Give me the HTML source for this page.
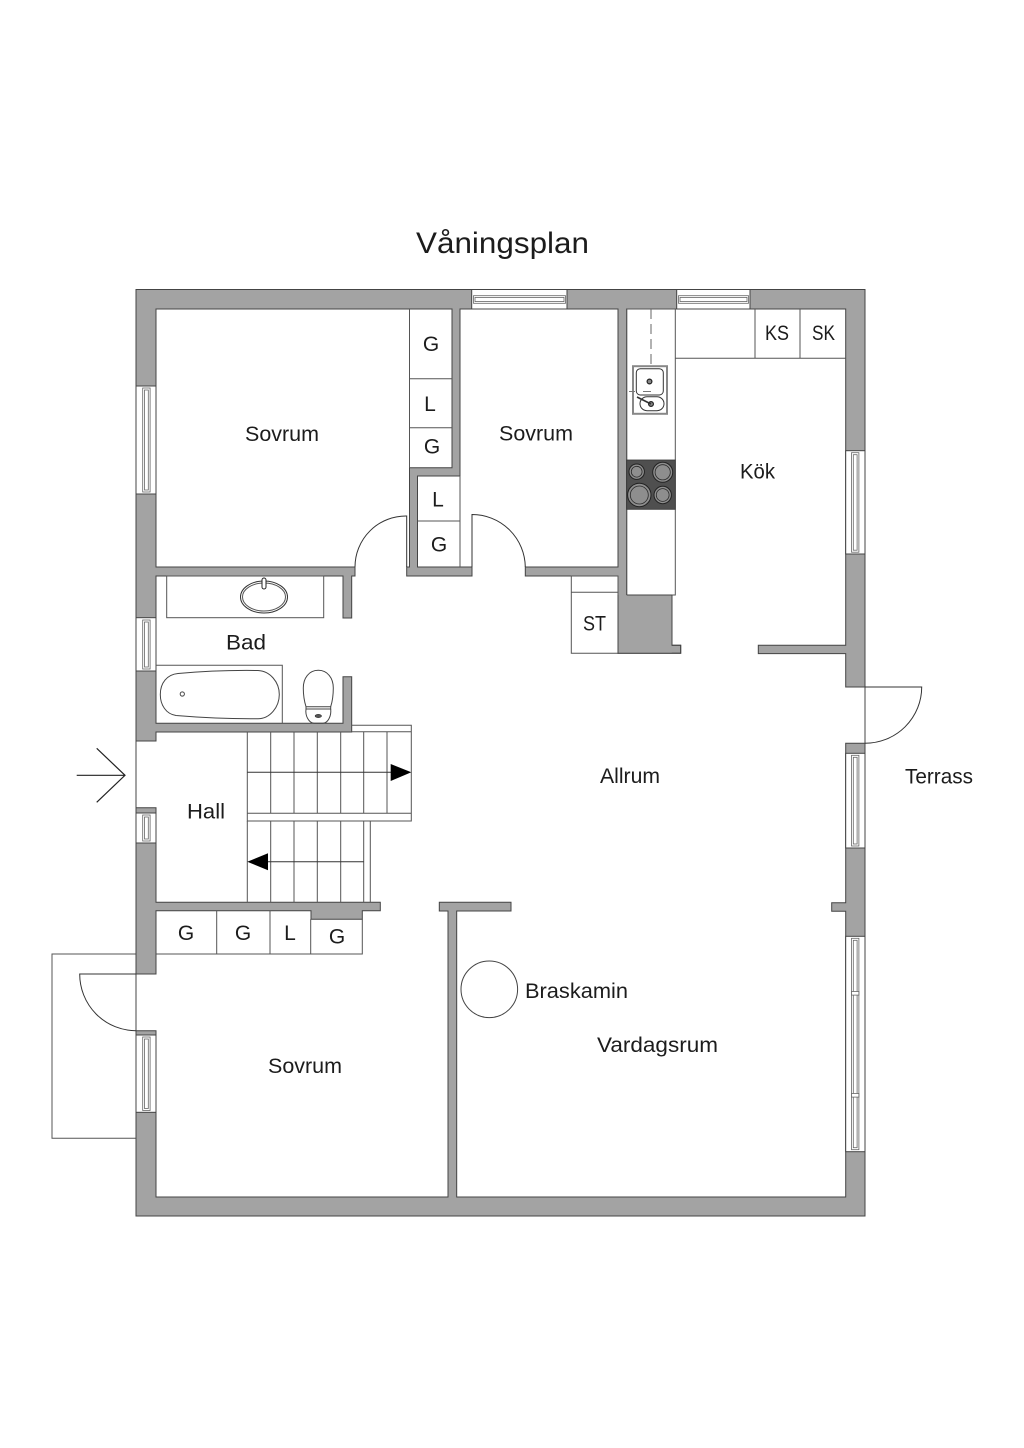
<!DOCTYPE html>
<html lang="sv">
<head>
<meta charset="utf-8">
<title>Våningsplan</title>
<style>
html,body{margin:0;padding:0;background:#fff;}
svg{display:block;}
text{font-family:"Liberation Sans",sans-serif;font-size:21px;fill:#1c1c1c;}
.m{text-anchor:middle;}
.l{fill:none;stroke:#555;stroke-width:1;}
.d{fill:none;stroke:#333;stroke-width:1;}
.w{fill:#fff;stroke:#444;stroke-width:1;}
.g{fill:#fff;stroke:#666;stroke-width:.8;}
.s{fill:none;stroke:#444;stroke-width:1;}
</style>
</head>
<body>
<svg xmlns="http://www.w3.org/2000/svg" width="1024" height="1448" viewBox="0 0 1024 1448">
<rect width="1024" height="1448" fill="#fff"/>

<text x="416" y="253" style="font-size:30px" textLength="173" lengthAdjust="spacingAndGlyphs">Våningsplan</text>

<!-- porch -->
<path class="l" d="M136 954H52V1138.3H136"/>

<!-- walls -->
<path fill="#a3a3a3" stroke="#444" stroke-width="1" fill-rule="evenodd" d="M136 289.5H865V1216H136Z
M156 309H452V467.7H409.5V567H406.7V576H472V567H417.5V476H460V309H618V567H525.3V576H618V653.3H680.7V645.3H672V595H626.7V309H845.7V645.3H758.3V653.6H845.7V687H865V743.3H845.7V902.7H831.7V911.3H845.7V1197H456.7V911H511V902.3H439.3V911H448V1197H156V1030.7H136V974H156V910.7H311V919.3H362.3V910.7H380.3V902.3H156V807.7H136V741H156V732H351.7V676.7H343V723.3H156V576H343V618H351.7V576H355V567H156Z"/>

<!-- windows: top -->
<rect class="w" x="471.7" y="289.5" width="95.3" height="19.5"/>
<rect class="g" x="473.5" y="295.7" width="92" height="7.6"/><rect class="g" x="475" y="297.4" width="89" height="4.2"/>
<rect class="w" x="676.7" y="289.5" width="73.3" height="19.5"/>
<rect class="g" x="678.5" y="295.7" width="70" height="7.6"/><rect class="g" x="680" y="297.4" width="67" height="4.2"/>
<!-- windows: left -->
<rect class="w" x="136" y="386" width="20" height="108"/>
<rect class="g" x="142.7" y="388" width="7.4" height="104"/><rect class="g" x="144.5" y="390" width="3.8" height="100"/>
<rect class="w" x="136" y="617.7" width="20" height="53.3"/>
<rect class="g" x="142.7" y="620" width="7.4" height="49"/><rect class="g" x="144.5" y="622" width="3.8" height="45"/>
<rect class="w" x="136" y="813" width="20" height="30"/>
<rect class="g" x="142.7" y="815" width="7.4" height="26"/><rect class="g" x="144.5" y="817" width="3.8" height="22"/>
<rect class="w" x="136" y="1035" width="20" height="77.3"/>
<rect class="g" x="142.7" y="1037" width="7.4" height="73.5"/><rect class="g" x="144.5" y="1039" width="3.8" height="69.5"/>
<!-- windows: right -->
<rect class="w" x="845.7" y="450.7" width="19.3" height="103.3"/>
<rect class="g" x="851.5" y="452.7" width="7.4" height="99.5"/><rect class="g" x="853.3" y="454.7" width="3.8" height="95.5"/>
<rect class="w" x="845.7" y="753.3" width="19.3" height="94.7"/>
<rect class="g" x="851.5" y="755.3" width="7.4" height="90.7"/><rect class="g" x="853.3" y="757.3" width="3.8" height="86.7"/>
<rect class="w" x="845.7" y="936.3" width="19.3" height="215.4"/>
<rect class="g" x="851.5" y="938.3" width="7.4" height="211.4"/><rect class="g" x="853.3" y="940.3" width="3.8" height="207.4"/>
<rect x="851.5" y="991.5" width="7.4" height="3.6" fill="#fff" stroke="#666" stroke-width=".8"/>
<rect x="851.5" y="1093.5" width="7.4" height="3.6" fill="#fff" stroke="#666" stroke-width=".8"/>

<!-- doors -->
<path class="d" d="M355 567A51 51 0 0 1 406.7 516V567"/>
<path class="d" d="M472 567V514.5A53.3 53.3 0 0 1 525.3 567"/>
<path class="d" d="M865 687H921.7A56.7 56.3 0 0 1 865 743.3"/>
<path class="d" d="M136 974H79.7A56.3 56.7 0 0 0 136 1030.7"/>

<!-- bedroom closets -->
<path class="l" d="M409.5 309V467.7M409.5 378.7H452M409.5 427.7H452"/>
<path class="l" d="M460 476V567M417.5 521H460"/>

<!-- kitchen -->
<rect class="l" fill="#fff" x="626.7" y="309" width="48.6" height="286"/>
<path class="l" d="M675.3 358.3H845.7M755 309V358.3M800 309V358.3"/>
<path d="M651 309V366" fill="none" stroke="#666" stroke-width="1" stroke-dasharray="10 5"/>
<rect x="633" y="366.2" width="34" height="47.6" fill="#fff" stroke="#888" stroke-width="2"/>
<rect x="636.3" y="368.7" width="27" height="26.3" rx="4" fill="#fff" stroke="#333" stroke-width="1"/>
<rect x="640" y="396.7" width="24" height="14" rx="7" fill="#fff" stroke="#333" stroke-width="1"/>
<circle cx="649.5" cy="381.5" r="2.4" fill="#888" stroke="#222" stroke-width="1.2"/>
<circle cx="651" cy="404" r="2.4" fill="#888" stroke="#222" stroke-width="1.2"/>
<path d="M637 397L651 404" stroke="#333" stroke-width="1.6" fill="none"/>
<path d="M629 391.5H635M643 391.5H651" stroke="#777" stroke-width="1" fill="none"/>
<!-- hob -->
<rect x="626.7" y="460" width="48.6" height="49.3" fill="#4f4f4f" stroke="#333" stroke-width=".8"/>
<g fill="#8e8e8e" stroke="#222" stroke-width="1">
<circle cx="636.7" cy="471.7" r="7.7"/><circle cx="662.7" cy="472.3" r="10"/><circle cx="639.3" cy="495" r="11.7"/><circle cx="662.7" cy="495" r="8.7"/>
</g>
<g fill="none" stroke="#2a2a2a" stroke-width=".8">
<circle cx="636.7" cy="471.7" r="5.4"/><circle cx="662.7" cy="472.3" r="7.6"/><circle cx="639.3" cy="495" r="9"/><circle cx="662.7" cy="495" r="6.4"/>
</g>

<!-- ST closet -->
<path fill="#fff" class="l" d="M571.3 576V653.3H618V576Z"/>
<path class="l" d="M571.3 592.3H618"/>
<!-- block beside ST -->
<rect x="618.5" y="595" width="53.2" height="58" fill="#a3a3a3"/>
<path d="M618 595V653.3H680.7V645.3H672V595" fill="none" stroke="#444" stroke-width="1"/>
<path d="M626.7 595H672" stroke="#444" stroke-width="1" fill="none"/>

<!-- bathroom -->
<rect class="l" x="166.7" y="576" width="157" height="41.7"/>
<ellipse cx="264" cy="597" rx="23.5" ry="16" fill="#fff" stroke="#333" stroke-width="1"/>
<ellipse cx="264" cy="597" rx="21.5" ry="14" fill="none" stroke="#555" stroke-width="1"/>
<rect x="262" y="578" width="4" height="11" rx="2" fill="#fff" stroke="#222" stroke-width="1"/>
<path class="l" d="M156 665.3H282.3V723.3"/>
<path class="s" d="M178 673.5C200 671.5 225 670 258 670.5C270 671 279.3 682 279.3 694.5C279.3 707 270 718.7 258 718.7C225 719 200 717.5 176 715.5C166 714 160.3 705 160.3 694.5C160.3 683 167 674.5 178 673.5Z"/>
<circle cx="182.3" cy="694" r="2.1" fill="#fff" stroke="#444" stroke-width="1"/>
<!-- toilet -->
<path class="s" d="M318.3 670.3C309 670.3 303.3 678 303.3 688C303.3 696 304.5 702 306 706.7H330.7C332.2 702 333.3 696 333.3 688C333.3 678 327.5 670.3 318.3 670.3Z"/>
<path class="s" d="M306 706.7V709H330.7V706.7"/>
<path class="s" d="M306 709C305 716 309 723 314 723.3H323C328 723 331.5 716 330.7 709"/>
<ellipse cx="318.3" cy="716" rx="3.2" ry="1.6" fill="#555" stroke="#222" stroke-width=".6"/>

<!-- stairs -->
<path class="l" d="M351.7 725.3H411.3V821H247.3V731.7M351.7 731.7H411.3M247.3 813.3H411.3"/>
<path class="l" d="M270.7 731.7V813.3M294 731.7V813.3M317.3 731.7V813.3M340.7 731.7V813.3M363.7 731.7V813.3M387 731.7V813.3"/>
<path class="d" d="M247.3 772.3H391"/>
<polygon points="390.7,764 390.7,781 411.3,772.3" fill="#000"/>
<path class="l" d="M247.3 821V902.3M270.7 821V902.3M294 821V902.3M317.3 821V902.3M340.7 821V902.3M363.7 821V902.3M370.3 821V902.3"/>
<path class="d" d="M268 861.7H363.7"/>
<polygon points="247.3,861.7 268,853.3 268,870.3" fill="#000"/>

<!-- hall closets -->
<path class="l" d="M156 954H362.3V919.3M216.7 910.7V954M270 910.7V954M310.7 919.3V954"/>

<!-- fireplace -->
<circle class="s" cx="489.3" cy="989.3" r="28.3"/>

<!-- entry arrow -->
<path d="M76.7 775.3H125M96.7 748.3L125 775.3L96.7 802.3" fill="none" stroke="#222" stroke-width="1.2"/>

<!-- labels -->
<text x="245" y="441" textLength="74" lengthAdjust="spacingAndGlyphs">Sovrum</text>
<text x="499" y="440.5" textLength="74" lengthAdjust="spacingAndGlyphs">Sovrum</text>
<text x="268" y="1073" textLength="74" lengthAdjust="spacingAndGlyphs">Sovrum</text>
<text x="740" y="478.7" textLength="35" lengthAdjust="spacingAndGlyphs">Kök</text>
<text x="226" y="649.3" textLength="40" lengthAdjust="spacingAndGlyphs">Bad</text>
<text x="187" y="818.7" textLength="38" lengthAdjust="spacingAndGlyphs">Hall</text>
<text x="600" y="783" textLength="60" lengthAdjust="spacingAndGlyphs">Allrum</text>
<text x="905" y="783.7" textLength="68" lengthAdjust="spacingAndGlyphs">Terrass</text>
<text x="525" y="998" textLength="103" lengthAdjust="spacingAndGlyphs">Braskamin</text>
<text x="597" y="1052" textLength="121" lengthAdjust="spacingAndGlyphs">Vardagsrum</text>
<text x="765" y="340" textLength="24" lengthAdjust="spacingAndGlyphs">KS</text>
<text x="812" y="340" textLength="23" lengthAdjust="spacingAndGlyphs">SK</text>
<text x="583" y="630.7" textLength="23" lengthAdjust="spacingAndGlyphs">ST</text>
<text class="m" x="431" y="351">G</text>
<text class="m" x="430" y="411">L</text>
<text class="m" x="432" y="453.3">G</text>
<text class="m" x="438" y="506.7">L</text>
<text class="m" x="439" y="551.7">G</text>
<text class="m" x="186" y="940">G</text>
<text class="m" x="243" y="940">G</text>
<text class="m" x="290" y="940">L</text>
<text class="m" x="337" y="943.3">G</text>
</svg>
</body>
</html>
